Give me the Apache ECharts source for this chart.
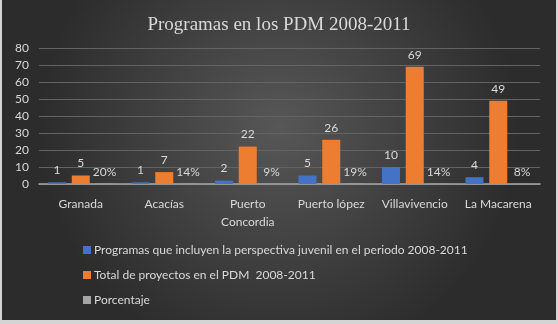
<!DOCTYPE html>
<html>
<head>
<meta charset="utf-8">
<script src="https://cdn.jsdelivr.net/npm/echarts@6/dist/echarts.min.js"></script>
<style>
  html, body { margin: 0; padding: 0; background: #d4d4d4; }
  #chart { position: absolute; left: 2px; top: 0; width: 554px; height: 320px; }
</style>
</head>
<body>
<div id="chart"></div>
<script>
// municipios
var categories = ['Granada', 'Acacías', 'Puerto\nConcordia', 'Puerto lópez', 'Villavivencio', 'La Macarena'];
var seriesNames = [
  'Programas que incluyen la perspectiva juvenil en el periodo 2008-2011',
  'Total de proyectos en el PDM  2008-2011',
  'Porcentaje'
];
var programas = [1, 1, 2, 5, 10, 4];
var totalProyectos = [5, 7, 22, 26, 69, 49];
var porcentaje = [0.2, 0.14, 0.09, 0.19, 0.14, 0.08];

var txt = '#d9d9d9';
var font = 'Lato';

var chart = echarts.init(document.getElementById('chart'));
var option = {
  backgroundColor: {
    type: 'radial', x: 0.5, y: 0.4, r: 0.75,
    colorStops: [
      { offset: 0, color: '#575757' },
      { offset: 1, color: '#2c2c2c' }
    ]
  },
  color: ['#4472c4', '#ed7d31', '#a5a5a5'],
  textStyle: { fontFamily: font },
  title: {
    text: 'Programas en los PDM 2008-2011',
    left: 'center',
    top: 11,
    textStyle: {
      color: txt, fontFamily: 'Liberation Serif', fontWeight: 'normal',
      fontSize: 19
    }
  },
  legend: {
    orient: 'vertical',
    left: 76,
    top: 239,
    itemWidth: 8,
    itemHeight: 8,
    itemGap: 13,
    icon: 'rect',
    textStyle: { color: txt, fontSize: 12, fontFamily: font, padding: [0, 0, 0, -2] },
    data: seriesNames
  },
  grid: { left: 37, right: 16, top: 48, height: 136 },
  xAxis: {
    type: 'category',
    data: categories,
    axisTick: { show: false },
    axisLine: { lineStyle: { color: '#a6a6a6', width: 1.5 } },
    axisLabel: { color: txt, fontSize: 12, margin: 11, lineHeight: 18, interval: 0 }
  },
  yAxis: {
    type: 'value',
    min: 0, max: 80, interval: 10,
    axisLine: { show: false },
    axisTick: { show: false },
    splitLine: { lineStyle: { color: '#636363', width: 1 } },
    axisLabel: { color: txt, fontSize: 12, margin: 10 }
  },
  series: [
    {
      name: seriesNames[0], type: 'bar', data: programas,
      barWidth: 18, barGap: '32%',
      label: { show: true, position: 'top', color: txt, fontSize: 12, distance: 6 }
    },
    {
      name: seriesNames[1], type: 'bar', data: totalProyectos,
      barWidth: 18, barGap: '32%',
      label: { show: true, position: 'top', color: txt, fontSize: 12, distance: 6 }
    },
    {
      name: seriesNames[2], type: 'bar', data: porcentaje,
      barWidth: 18, barGap: '32%',
      label: {
        show: true, position: 'top', color: txt, fontSize: 12, distance: 6,
        formatter: function (p) { return Math.round(p.value * 100) + '%'; }
      }
    }
  ]
};
chart.setOption(option);
</script>
</body>
</html>
